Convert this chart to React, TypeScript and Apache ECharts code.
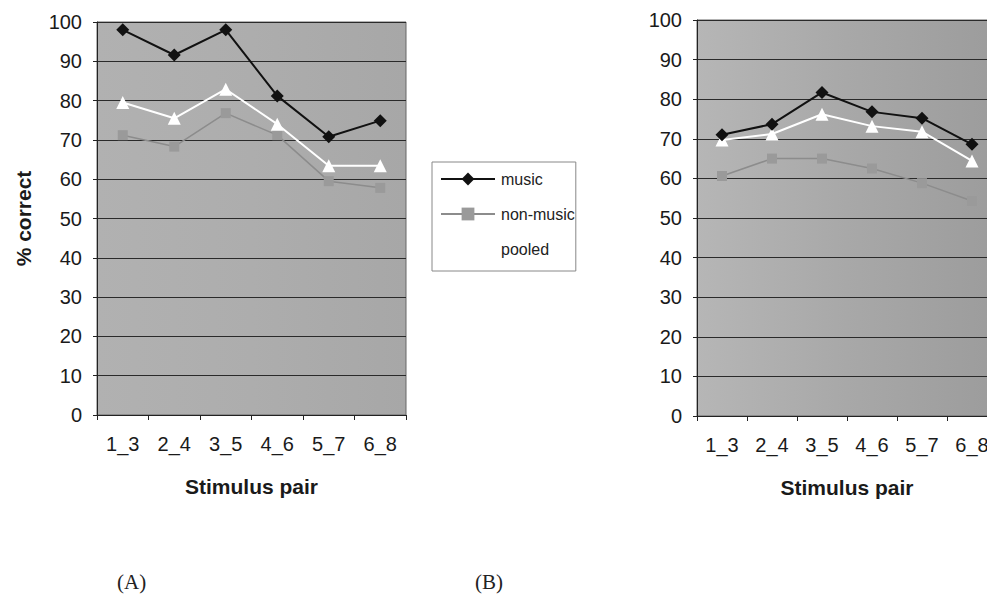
import React, { useEffect, useRef } from "react";
import * as echarts from "echarts";

const categories = ["1_3", "2_4", "3_5", "4_6", "5_7", "6_8"];
const yTicks = [0, 10, 20, 30, 40, 50, 60, 70, 80, 90, 100];

const musicA = [98, 91.6, 98, 81.2, 70.8, 74.9];
const nonMusicA = [71.2, 68.3, 76.8, 71.2, 59.5, 57.8];
const pooledA = [79.5, 75.5, 82.9, 74, 63.4, 63.4];

const musicB = [71, 73.7, 81.7, 76.8, 75.2, 68.6];
const nonMusicB = [60.6, 65, 65, 62.5, 58.8, 54.3];
const pooledB = [69.7, 71.2, 76.2, 73.2, 71.8, 64.4];

const panelLabels = ["(A)", "(B)"];
const seriesNames = ["music", "non-music", "pooled"];

export default function App() {
  const ref = useRef<HTMLDivElement>(null);
  useEffect(() => {
    if (!ref.current) return;
    const chart = echarts.init(ref.current, null, { renderer: "svg" });
    const font = "Arial, 'Liberation Sans', sans-serif";
    const makeX = (gridIndex: number) => ({
      type: "category",
      gridIndex,
      data: categories,
      boundaryGap: true,
      name: "Stimulus pair",
      nameLocation: "middle",
      nameGap: 61,
      nameTextStyle: { fontFamily: font, fontSize: 21, fontWeight: "bold", color: "#1a1a1a" },
      axisLine: { show: true, lineStyle: { color: "#222", width: 1 } },
      axisTick: { show: true, length: 5, alignWithLabel: false, lineStyle: { color: "#222" } },
      axisLabel: { fontFamily: font, fontSize: 20, color: "#1a1a1a", margin: 19, hideOverlap: false },
      splitLine: { show: false },
    });
    const makeY = (gridIndex: number, withName: boolean) => ({
      type: "value",
      gridIndex,
      min: yTicks[0],
      max: yTicks[yTicks.length - 1],
      interval: 10,
      name: withName ? "% correct" : "",
      nameLocation: "middle",
      nameGap: 63,
      nameTextStyle: { fontFamily: font, fontSize: 21, fontWeight: "bold", color: "#1a1a1a" },
      axisLine: { show: true, lineStyle: { color: "#222", width: 1 } },
      axisTick: { show: true, length: 4, lineStyle: { color: "#222" } },
      axisLabel: { fontFamily: font, fontSize: 20, color: "#1a1a1a", margin: 15 },
      splitLine: { show: true, lineStyle: { color: "#2a2a2a", width: 1 } },
    });
    const mk = (name: string, data: number[], idx: number) => {
      const base: any = {
        name,
        type: "line",
        xAxisIndex: idx,
        yAxisIndex: idx,
        data,
        z: 3,
      };
      if (name === "music") {
        base.symbol = "diamond";
        base.symbolSize = 13;
        base.itemStyle = { color: "#111" };
        base.lineStyle = { color: "#111", width: 2 };
        base.z = 5;
      } else if (name === "non-music") {
        base.symbol = "rect";
        base.symbolSize = 10;
        base.itemStyle = { color: "#9a9a9a" };
        base.lineStyle = { color: "#8c8c8c", width: 1.5 };
      } else {
        base.symbol = "triangle";
        base.symbolSize = 13;
        base.itemStyle = { color: "#ffffff" };
        base.lineStyle = { color: "#ffffff", width: 2 };
        base.z = 4;
      }
      return base;
    };
    const option: any = {
      animation: false,
      backgroundColor: "#ffffff",
      grid: [
        {
          left: 97,
          top: 22,
          width: 309,
          height: 393,
          containLabel: false,
          outerBoundsMode: "none",
          show: true,
          borderColor: "#666",
          borderWidth: 1,
          backgroundColor: new echarts.graphic.LinearGradient(0, 0, 1, 0, [
            { offset: 0, color: "#b1b1b1" },
            { offset: 0.5, color: "#adadad" },
            { offset: 1, color: "#a7a7a7" },
          ]),
        },
        {
          left: 697,
          top: 20,
          width: 300,
          height: 396,
          containLabel: false,
          outerBoundsMode: "none",
          show: true,
          borderColor: "#666",
          borderWidth: 1,
          backgroundColor: new echarts.graphic.LinearGradient(0, 0, 1, 0, [
            { offset: 0, color: "#b6b6b6" },
            { offset: 0.5, color: "#a8a8a8" },
            { offset: 1, color: "#9c9c9c" },
          ]),
        },
      ],
      xAxis: [makeX(0), makeX(1)],
      yAxis: [makeY(0, true), makeY(1, false)],
      legend: {
        show: true,
        data: seriesNames,
        orient: "vertical",
        left: 432,
        top: 162,
        padding: [9, 1, 14, 8],
        itemGap: 19,
        itemWidth: 54,
        itemHeight: 16,
        backgroundColor: "#ffffff",
        borderColor: "#888",
        borderWidth: 1,
        borderRadius: 0,
        textStyle: { fontFamily: font, fontSize: 16, color: "#222", padding: [0, 0, 0, 1] },
        selectedMode: false,
      },
      series: [
        mk("music", musicA, 0),
        mk("non-music", nonMusicA, 0),
        mk("pooled", pooledA, 0),
        mk("music", musicB, 1),
        mk("non-music", nonMusicB, 1),
        mk("pooled", pooledB, 1),
      ],
      graphic: [
        {
          type: "text",
          left: 117,
          top: 571,
          style: { text: panelLabels[0], fontFamily: "'Liberation Serif', 'DejaVu Serif', serif", fontSize: 21, fill: "#222" },
        },
        {
          type: "text",
          left: 475,
          top: 571,
          style: { text: panelLabels[1], fontFamily: "'Liberation Serif', 'DejaVu Serif', serif", fontSize: 21, fill: "#222" },
        },
      ],
    };
    chart.setOption(option);
    return () => chart.dispose();
  }, []);
  return (
    <div
      ref={ref}
      style={{ position: "fixed", left: 0, top: 0, width: 987, height: 594, background: "#fff" }}
    />
  );
}
